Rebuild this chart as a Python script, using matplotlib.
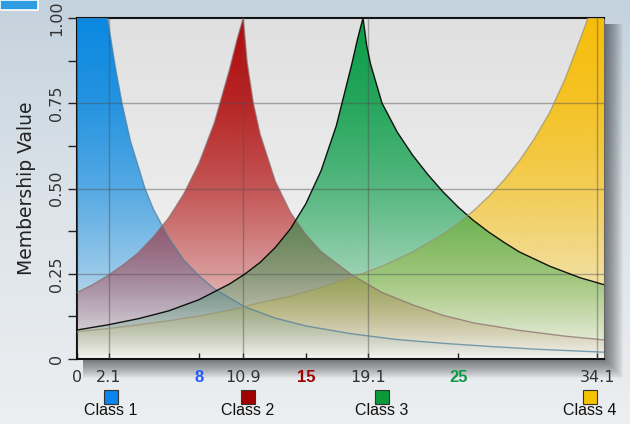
import numpy as np
import matplotlib
matplotlib.use("Agg")
import matplotlib.pyplot as plt
from matplotlib.patches import Polygon, Rectangle
from matplotlib import transforms
from matplotlib.colors import to_rgb

plt.rcParams["font.family"] = "DejaVu Sans"

XMAX = 34.55
NAMES = ["Class 1", "Class 2", "Class 3", "Class 4"]

X1 = [0, 2.0, 2.25, 2.5, 2.95, 3.5, 4.46, 5, 6, 7, 8, 9, 11, 13, 15, 18, 21, 24, 27, 30, 34.55]
Y1 = [1, 1, 0.93, 0.86, 0.75, 0.64, 0.50, 0.44, 0.356, 0.29, 0.244, 0.206, 0.153, 0.12, 0.097,
      0.074, 0.057, 0.046, 0.037, 0.029, 0.02]
X2 = [0, 1, 2, 3, 4, 5, 6, 7, 8, 9, 10, 10.5, 10.9,
      11.15, 11.56, 12, 13, 14, 15, 16, 18, 20, 22, 24, 26, 29, 32, 34.55]
Y2 = [0.195, 0.217, 0.244, 0.275, 0.311, 0.358, 0.413, 0.484, 0.574, 0.692, 0.849, 0.938, 1.0,
      0.871, 0.75, 0.66, 0.521, 0.429, 0.365, 0.315, 0.247, 0.195, 0.159, 0.128, 0.106, 0.084, 0.067, 0.056]
X3 = [0, 2, 4, 6, 8, 10, 11, 12, 13, 14, 15, 16, 17, 18, 18.4, 18.75,
      19, 19.25, 20, 21, 22, 23, 24, 25, 26, 27, 28, 29, 30, 31, 32, 33, 34.55]
Y3 = [0.085, 0.10, 0.118, 0.141, 0.174, 0.22, 0.249, 0.283, 0.327, 0.382, 0.455, 0.552, 0.684, 0.862, 0.94, 1.0,
      0.917, 0.864, 0.75, 0.665, 0.598, 0.541, 0.49, 0.445, 0.406, 0.372, 0.342, 0.314, 0.293, 0.272, 0.255, 0.238, 0.218]
X4 = [0, 2, 4, 6, 8, 10, 12, 14, 16, 18, 20, 22, 24, 25, 26, 27, 28, 29, 30, 31, 32, 33, 33.5, 34.55]
Y4 = [0.08, 0.089, 0.10, 0.112, 0.126, 0.143, 0.165, 0.184, 0.21, 0.239, 0.272, 0.314, 0.366, 0.398,
      0.435, 0.477, 0.525, 0.581, 0.647, 0.724, 0.821, 0.939, 1.0, 1.0]

XTICKS = [0, 2.1, 8, 10.9, 15, 19.1, 25, 34.1]
XTICK_LABELS = ["0", "2.1", "8", "10.9", "15", "19.1", "25", "34.1"]
CENTERS = [2.1, 10.9, 19.1, 34.1]
BOUNDS = {"8": "#1f5cff", "15": "#a00000", "25": "#109a45"}
YTICKS = [0, 0.25, 0.5, 0.75, 1.0]
YTICK_LABELS = ["0", "0.25", "0.50", "0.75", "1.00"]

FILLS = ["#0084e0", "#ae0000", "#009a42", "#f8bc00"]
# fill opacity against height: solid at the top, fading out towards zero
FADE = [(0, 0.0), (0.1, 0.14), (0.25, 0.36), (0.5, 0.64), (0.75, 0.84), (1, 0.96)]
EDGES = ["#4a7d9a", "#8a6a6a", "#000000", "#9a9270"]
SWATCH = ["#0a84f0", "#a00000", "#0a9a3a", "#f7c200"]
LAYER = [3, 4, 6, 5]
LEGEND_AT = [2.2, 11.2, 20.0, 33.6]


def vgrad(stops, fade=None, n=256):
    t = np.linspace(0, 1, n)
    pos = [p for p, _ in stops]
    rgb = np.array([to_rgb(c) for _, c in stops])
    img = np.ones((n, 1, 4))
    for k in range(3):
        img[:, 0, k] = np.interp(t, pos, rgb[:, k])
    if fade:
        img[:, 0, 3] = np.interp(t, [p for p, _ in fade], [a for _, a in fade])
    return img


fig = plt.figure(figsize=(6.3, 4.24), dpi=100)
W, H = 630, 424
L, R, B, T = 77 / W, 604 / W, (H - 359) / H, (H - 18) / H

# page background, corner tab and drop shadow
bg = fig.add_axes([0, 0, 1, 1], zorder=-5)
bg.imshow(vgrad([(0, "#eceef0"), (0.5, "#dde4ea"), (1, "#c4d2dd")]), extent=[0, 1, 0, 1],
          origin="lower", aspect="auto")
bg.set_xlim(0, 1); bg.set_ylim(0, 1); bg.axis("off")
bg.add_patch(Rectangle((0, 1 - 10 / H), 38 / W, 10 / H, fc="#2f9be0", ec="white", lw=1.2))
for k in range(1, 20):
    bg.add_patch(Rectangle((L + 6 / W, B - k / H), R - L - 6 / W + k / W, T - B - 6 / H + k / H,
                           fc="black", ec="none", alpha=0.03))

ax = fig.add_axes([L, B, R - L, T - B], zorder=1)
ax.imshow(vgrad([(0, "#f6f6f4"), (0.5, "#ebebeb"), (1, "#e0e0e0")]), extent=[0, XMAX, 0, 1],
          origin="lower", aspect="auto", zorder=0)

for i, (x, y) in enumerate(zip([X1, X2, X3, X4], [Y1, Y2, Y3, Y4])):
    verts = list(zip(x, y)) + [(x[-1], 0), (x[0], 0)]
    clip = Polygon(verts, closed=True, fc="none", ec="none", transform=ax.transData)
    ax.add_patch(clip)
    im = ax.imshow(vgrad([(0, FILLS[i]), (1, FILLS[i])], FADE), extent=[0, XMAX, 0, 1],
                   origin="lower", aspect="auto", zorder=LAYER[i], interpolation="bilinear")
    im.set_clip_path(clip)
    ax.plot(x, y, color=EDGES[i], lw=1.0, alpha=0.9 if i == 2 else 0.7, zorder=8)

for v in [0.25, 0.5, 0.75]:
    ax.axhline(v, color="#505050", lw=1, alpha=0.45, zorder=7)
for c in CENTERS:
    ax.axvline(c, color="#505050", lw=1, alpha=0.45, zorder=7)

ax.set_xlim(0, XMAX)
ax.set_ylim(0, 1)
ax.set_xticks(XTICKS, XTICK_LABELS)
ax.tick_params(axis="x", direction="in", length=4.5, width=1, pad=8, labelsize=11.5,
               labelcolor="#333333", color="#222222")
for lab in ax.get_xticklabels():
    if lab.get_text() in BOUNDS:
        lab.set_color(BOUNDS[lab.get_text()])
        lab.set_fontweight("bold")
        lab.set_fontfamily("Liberation Sans")
        lab.set_fontsize(12)
ax.set_yticks(YTICKS, YTICK_LABELS, rotation=90, va="center")
ax.set_yticks([0.125, 0.375, 0.625, 0.875], minor=True)
ax.tick_params(axis="y", which="both", direction="out", length=6.5, width=1, pad=3,
               labelsize=11.5, labelcolor="#333333", color="#222222")
ax.set_ylabel("Membership Value", fontsize=13.5, color="#222222")
ax.yaxis.set_label_coords(-0.078, 0.5)

for s in ["left", "top", "bottom"]:
    ax.spines[s].set_color("#111111"); ax.spines[s].set_linewidth(1.5)
ax.spines["right"].set_color("#666666"); ax.spines["right"].set_linewidth(0.8)

tr = transforms.blended_transform_factory(ax.transData, ax.transAxes)
for pos, name, col in zip(LEGEND_AT, NAMES, SWATCH):
    ax.plot([pos], [-0.111], marker="s", ms=9.5, mfc=col, mec="#333333", mew=0.8,
            transform=tr, clip_on=False)
    ax.text(pos, -0.152, name, ha="center", va="center", transform=tr, fontsize=11.5,
            family="Liberation Sans", color="#111111")

fig.savefig("out.png", dpi=100)
